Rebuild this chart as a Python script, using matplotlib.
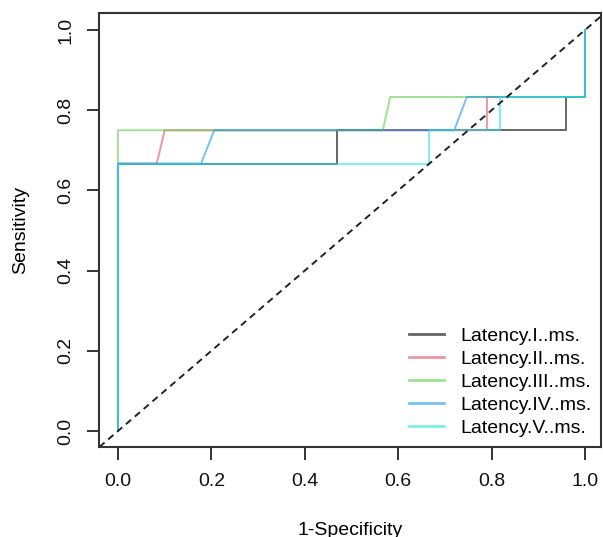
import matplotlib
matplotlib.use("Agg")
import matplotlib.pyplot as plt

plt.rcParams['font.family'] = ['Liberation Sans', 'DejaVu Sans']

# ROC curves: (1-specificity, sensitivity)
names = ["Latency.I..ms.", "Latency.II..ms.", "Latency.III..ms.",
         "Latency.IV..ms.", "Latency.V..ms."]
colors = ["#000000", "#DF536B", "#61D04F", "#2297E6", "#28E2E5"]

fpr_1 = [0, 0, 0.47, 0.47, 0.96, 0.96, 1, 1]
tpr_1 = [0, 0.667, 0.667, 0.75, 0.75, 0.833, 0.833, 1]

fpr_2 = [0, 0, 0.083, 0.10, 0.79, 0.79, 1, 1]
tpr_2 = [0, 0.667, 0.667, 0.75, 0.75, 0.833, 0.833, 1]

fpr_3 = [0, 0, 0.567, 0.583, 1, 1]
tpr_3 = [0, 0.75, 0.75, 0.833, 0.833, 1]

fpr_4 = [0, 0, 0.178, 0.206, 0.72, 0.747, 1, 1]
tpr_4 = [0, 0.667, 0.667, 0.75, 0.75, 0.833, 0.833, 1]

fpr_5 = [0, 0, 0.667, 0.667, 0.818, 0.818, 1, 1]
tpr_5 = [0, 0.667, 0.667, 0.75, 0.75, 0.833, 0.833, 1]

fprs = [fpr_1, fpr_2, fpr_3, fpr_4, fpr_5]
tprs = [tpr_1, tpr_2, tpr_3, tpr_4, tpr_5]
ticks = [0.0, 0.2, 0.4, 0.6, 0.8, 1.0]

fig = plt.figure(figsize=(6.03, 5.37), dpi=100)
W, H = 603, 537
ax = fig.add_axes([99 / W, (H - 447) / H, (601 - 99) / W, (447 - 13) / H])

for fpr, tpr, c, n in zip(fprs, tprs, colors, names):
    ax.plot(fpr, tpr, color=c, lw=1.4, alpha=0.6, label=n)

ax.axline((0, 0), slope=1, color="#222222", lw=1.4, linestyle=(0, (3.5, 2.5)))

ax.set_xlim(-19 / 467, -19 / 467 + 502 / 467)
ax.set_ylim(-16 / 401, -16 / 401 + 434 / 401)

ax.set_xticks(ticks)
ax.set_yticks(ticks)
ax.set_xticklabels([f"{t:.1f}" for t in ticks])
ax.set_yticklabels([f"{t:.1f}" for t in ticks], rotation=90, va="center")
ax.tick_params(direction="out", length=9, width=1.2, labelsize=14, colors="#111111")
ax.tick_params(axis="x", pad=10)
ax.tick_params(axis="y", pad=9)
for s in ax.spines.values():
    s.set_linewidth(1.5)
    s.set_color("#333333")

ax.set_xlabel("1-Specificity", fontsize=14, labelpad=23)
ax.set_ylabel("Sensitivity", fontsize=14, labelpad=20)

leg = ax.legend(loc="lower right", bbox_to_anchor=(1.0, 0.0), frameon=False,
                fontsize=14, handlelength=1.85, handletextpad=0.8,
                labelspacing=0.28, borderpad=0.5, borderaxespad=0)
for line in leg.get_lines():
    line.set_linewidth(2)

fig.savefig("out.png", dpi=100)
